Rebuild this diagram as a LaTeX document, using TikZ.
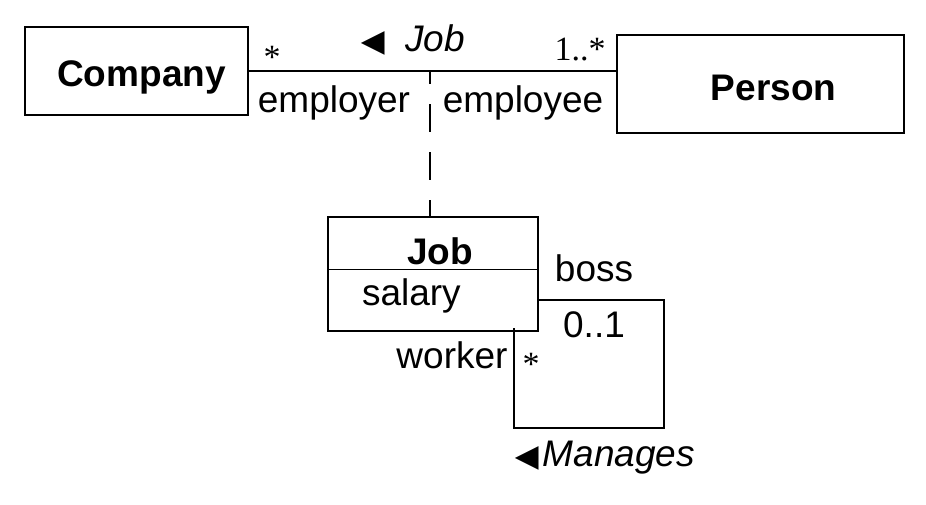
\documentclass[tikz,border=0pt]{standalone}
\usepackage{fontspec}
\setmainfont{Liberation Sans}
\newfontfamily\multfont{Liberation Serif}
\newfontfamily\symfont{DejaVu Sans}
\usepackage{tikz}
\usetikzlibrary{positioning,calc}

\newcommand{\dirtri}{\raisebox{0.3pt}{\symfont\fontsize{15.5}{15.5}\selectfont ◀}}

\begin{document}
\begin{tikzpicture}[
    x=0.5pt, y=-0.5pt, line width=1pt,
    font=\fontsize{18.5}{22}\selectfont,
    classbox/.style={draw, line width=1pt, inner sep=0pt, font=\fontsize{18.5}{22}\selectfont\bfseries},
    compartment/.style={inner sep=0pt},
    rolelabel/.style={inner sep=0pt},
    multlabel/.style={inner sep=0pt, font=\fontsize{17}{20}\selectfont\multfont},
    assocname/.style={inner sep=0pt, font=\fontsize{18.5}{22}\selectfont\itshape},
    linkline/.style={line width=0.6pt, dash pattern=on 14pt off 10pt, dash phase=8pt}
]
\useasboundingbox (0,0) rectangle (926,504);

% classes
\node[classbox, minimum width=111.5pt, minimum height=44pt, text height=19pt, text depth=4pt] (company) at (136.5,71) {\hspace*{5pt}Company};
\node[classbox, minimum width=143.5pt, minimum height=49pt, text height=16pt, text depth=0pt] (person) at (760.5,84) {\hspace*{13pt}Person};

% association class
\node[compartment, font=\fontsize{18.5}{22}\selectfont\bfseries, minimum width=104pt, minimum height=25pt,
      text height=21pt, text depth=0pt] (jobhead) at (433,243) {\hspace*{7pt}Job};
\node[compartment, text width=71pt, inner xsep=16.5pt, text height=13.5pt, text depth=8pt,
      minimum height=30pt, align=left, below=0pt of jobhead] (jobattr) {salary};
\draw (jobhead.north west) rectangle (jobattr.south east);
\draw[line width=0.5pt] (jobhead.south west) -- (jobhead.south east);

% association Job
\coordinate (assocmid) at (430,72);
\draw (company.east) -- (company.east -| person.west);
\draw[linkline] (assocmid) -- (assocmid |- jobhead.north);

\node[assocname] (jobname) at (413,40) {\dirtri\ \ Job};
\node[multlabel] (companymult) at (272,57) {*};
\node[multlabel] (personmult) at (580,50) {1..*};
\node[rolelabel] (employer) at (334,103) {employer};
\node[rolelabel] (employee) at (523,103) {employee};

% reflexive association Manages
\coordinate (loopcorner) at (664,428);
\coordinate (workerend) at (514,328);
\draw (jobattr.east) -| (loopcorner) -| (workerend);

\node[rolelabel] (boss) at (594,268) {boss};
\node[rolelabel] (bossmult) at (594,325) {0..1};
\node[rolelabel] (worker) at (452,355) {worker};
\node[multlabel] (workermult) at (531,364) {*};
\node[assocname] (manages) at (605,458) {\dirtri\kern2pt Manages};
\end{tikzpicture}
\end{document}
